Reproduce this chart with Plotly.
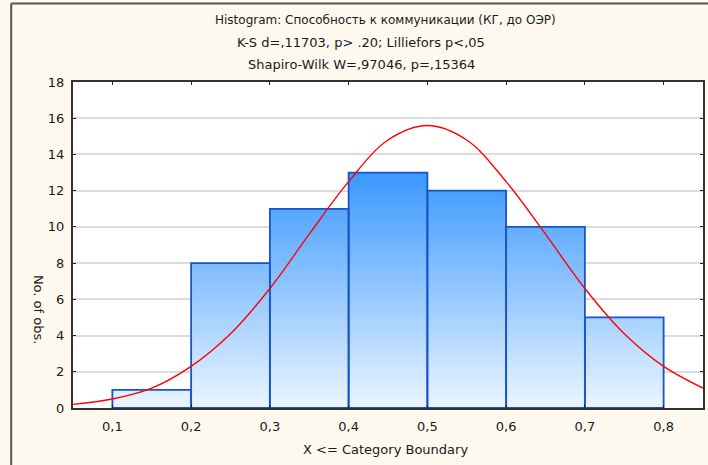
import plotly.graph_objects as go

# Histogram data: category upper boundaries and observation counts
bin_edges = [0.1, 0.2, 0.3, 0.4, 0.5, 0.6, 0.7, 0.8]
counts = [1, 8, 11, 13, 12, 10, 5]

# Expected normal curve (counts per bin width), sampled along the axis
curve_x = [0.05, 0.10, 0.15, 0.20, 0.25, 0.30, 0.35, 0.40, 0.45,
           0.50, 0.55, 0.60, 0.65, 0.70, 0.75, 0.80, 0.85]
curve_y = [0.2, 0.5, 1.1, 2.3, 4.1, 6.6, 9.6, 12.5, 14.8,
           15.6, 14.8, 12.5, 9.6, 6.6, 4.1, 2.3, 1.1]

title_lines = [
    "Histogram: Способность к коммуникации (КГ, до ОЭР)",
    "K-S d=,11703, p> .20; Lilliefors p<,05",
    "Shapiro-Wilk W=,97046, p=,15364",
]
x_title = "X <= Category Boundary"
y_title = "No. of obs."

font_family = "DejaVu Sans, Verdana, sans-serif"
text_color = "#1A1A1A"
outline_blue = "#1655CC"

fig = go.Figure()

# Gradient-filled step profile of the histogram
step_x = bin_edges
step_y = counts + [counts[-1]]
fig.add_trace(go.Scatter(
    x=step_x, y=step_y, mode="lines", line=dict(width=0, shape="hv"),
    fill="tozeroy",
    fillgradient=dict(type="vertical", start=0, stop=max(counts),
                      colorscale=[[0, "#EBF5FF"], [1, "#3A98FF"]]),
    hoverinfo="skip", showlegend=False,
))

# Outline of every bar (closed rectangles separated by gaps)
ox, oy = [], []
for i, h in enumerate(counts):
    x0, x1 = bin_edges[i], bin_edges[i + 1]
    ox += [x0, x0, x1, x1, x0, None]
    oy += [0, h, h, 0, 0, None]
fig.add_trace(go.Scatter(
    x=ox, y=oy, mode="lines", line=dict(color=outline_blue, width=1.8),
    hoverinfo="skip", showlegend=False,
))

# Fitted normal curve
fig.add_trace(go.Scatter(
    x=curve_x, y=curve_y, mode="lines",
    line=dict(color="#FF0000", width=1.4, shape="spline"),
    showlegend=False,
))

fig.update_layout(
    width=708, height=465,
    margin=dict(l=73, r=3, t=82, b=57),
    paper_bgcolor="#FEF9EF",
    plot_bgcolor="#FFFFFF",
    separators=", ",
    font=dict(family=font_family, size=13, color=text_color),
    showlegend=False,
)

fig.update_xaxes(
    range=[0.05, 0.85], tickvals=bin_edges, tickformat=".1f",
    ticks="inside", ticklen=3, tickcolor="#222", mirror="ticks",
    showline=True, linecolor="#333", linewidth=2,
    showgrid=False, zeroline=False, ticklabelstandoff=5,
    tickfont=dict(size=13, color=text_color),
)
fig.update_yaxes(
    range=[0, 18], dtick=2,
    ticks="inside", ticklen=3, tickcolor="#222", mirror="ticks",
    showline=True, linecolor="#333", linewidth=2,
    showgrid=True, gridcolor="#DCDCDC", gridwidth=1.5,
    zeroline=False, ticklabelstandoff=4,
    tickfont=dict(size=13, color=text_color),
)

# Three-line title
title_centers = [386, 362, 362]
title_sizes = [12, 13, 13]
for i, line in enumerate(title_lines):
    fig.add_annotation(
        text=line, xref="paper", yref="paper",
        x=(title_centers[i] - 73) / 632, y=1.0 + (62 - 22 * i) / 326,
        xanchor="center", yanchor="middle", showarrow=False,
        font=dict(size=title_sizes[i], color=text_color),
    )

# Axis titles
fig.add_annotation(
    text=x_title, xref="paper", yref="paper",
    x=(386 - 73) / 632, y=-41 / 326, xanchor="center", yanchor="middle",
    showarrow=False, font=dict(size=13, color=text_color),
)
fig.add_annotation(
    text=y_title, xref="paper", yref="paper",
    x=(39 - 73) / 632, y=(408 - 310) / 326, xanchor="center", yanchor="middle",
    textangle=90, showarrow=False, font=dict(size=13, color=text_color),
)

# Outer frame of the chart panel
fig.add_shape(
    type="line", xref="paper", yref="paper",
    x0=(11 - 73) / 632, x1=(11 - 73) / 632, y0=(408 - 470) / 326, y1=(408 - 3.5) / 326,
    line=dict(color="#555", width=2),
)
fig.add_shape(
    type="line", xref="paper", yref="paper",
    x0=(11 - 73) / 632, x1=(712 - 73) / 632, y0=(408 - 3.5) / 326, y1=(408 - 3.5) / 326,
    line=dict(color="#555", width=2),
)

fig.write_html("out.html")
